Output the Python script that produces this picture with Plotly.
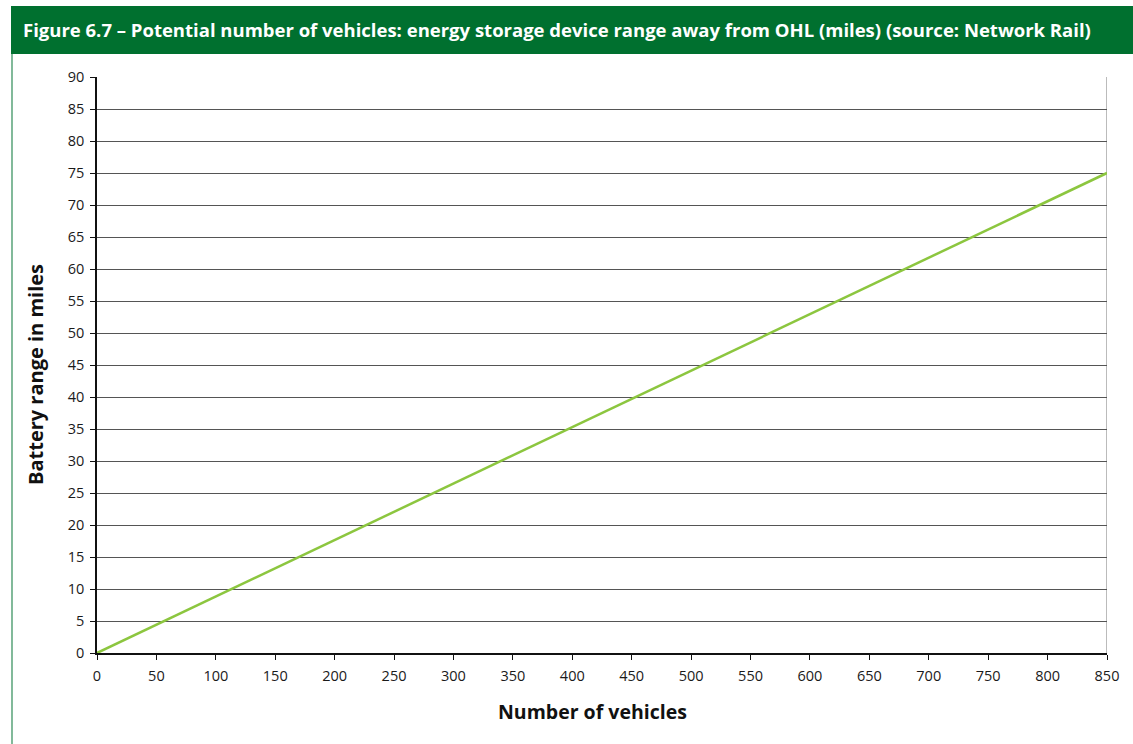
import plotly.graph_objects as go

# Chart data
vehicles = [0, 850]
battery_range_miles = [0, 75]
x_ticks = list(range(0, 851, 50))
y_ticks = list(range(0, 91, 5))

title_text = "Figure 6.7 – Potential number of vehicles: energy storage device range away from OHL (miles) (source: Network Rail)"

W, H = 1133, 744
L, R, T, B = 97, 26, 77, 91
pw, ph = W - L - R, H - T - B


def px(x):
    return (x - L) / pw


def py(y):
    return (H - B - y) / ph


fig = go.Figure()
fig.add_trace(go.Scatter(
    x=vehicles, y=battery_range_miles, mode="lines",
    line=dict(color="#8CC63F", width=2.5), showlegend=False, hoverinfo="x+y",
))

shapes = [
    # header band
    dict(type="rect", xref="paper", yref="paper", x0=px(11), x1=px(1133), y0=py(54), y1=py(6),
         fillcolor="#00702F", line=dict(width=0), layer="above"),
    # left frame rule
    dict(type="line", xref="paper", yref="paper", x0=px(12), x1=px(12), y0=py(54), y1=py(744),
         line=dict(color="#2E8B57", width=1.2)),
    # right edge of plot area
    dict(type="line", xref="x", yref="y", x0=850, x1=850, y0=0, y1=90,
         line=dict(color="#BBBBBB", width=2), layer="below"),
]

fig.update_layout(
    width=W, height=H,
    margin=dict(l=L, r=R, t=T, b=B, pad=0),
    paper_bgcolor="white", plot_bgcolor="white",
    font=dict(family="Open Sans", color="#1a1a1a", size=14),
    shapes=shapes,
    annotations=[
        dict(text=f"<b>{title_text}</b>", xref="paper", yref="paper", x=px(21), y=py(30),
             xanchor="left", yanchor="middle", showarrow=False,
             font=dict(family="Open Sans", size=18.5, color="white")),
        dict(text="<b>Number of vehicles</b>", xref="paper", yref="paper", x=px(592), y=py(711),
             xanchor="center", yanchor="middle", showarrow=False,
             font=dict(family="Open Sans", size=19.5, color="#111111")),
        dict(text="<b>Battery range in miles</b>", xref="paper", yref="paper", x=px(35), y=py(375),
             xanchor="center", yanchor="middle", showarrow=False, textangle=-90,
             font=dict(family="Open Sans", size=20, color="#111111")),
    ],
    xaxis=dict(
        range=[0, 850], tickvals=x_ticks, ticktext=[str(v) for v in x_ticks],
        showgrid=False, zeroline=False, showline=True, linecolor="#111111", linewidth=1.5,
        ticks="outside", ticklen=5, tickcolor="#111111", tickwidth=1,
        tickfont=dict(size=14.5, color="#1a1a1a"), ticklabelstandoff=4,
    ),
    yaxis=dict(
        range=[0, 90], tickvals=y_ticks, ticktext=[str(v) for v in y_ticks],
        showgrid=True, gridcolor="#555555", gridwidth=1, zeroline=False,
        showline=True, linecolor="#111111", linewidth=1.5,
        ticks="outside", ticklen=5, tickcolor="#111111", tickwidth=1,
        tickfont=dict(size=14.5, color="#1a1a1a"), ticklabelstandoff=3,
    ),
)

fig.write_html("out.html")
